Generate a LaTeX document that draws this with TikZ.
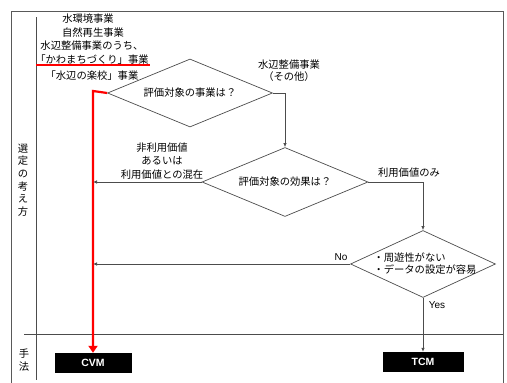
\documentclass[tikz,border=0pt]{standalone}
\usepackage{fontspec}
\setmainfont{Noto Sans CJK JP}
\newfontfamily\latinsans{Liberation Sans}
\usetikzlibrary{arrows.meta,shapes.geometric}
\begin{document}
\begin{tikzpicture}[x=1pt,y=-1pt,
  frame/.style={draw=black!65,line width=0.9pt},
  ln/.style={draw=black!70,line width=0.7pt},
  arr/.style={ln,-{Latex[length=4pt,width=3.5pt]}},
  dia/.style={diamond,draw=black!70,line width=0.7pt,inner sep=0pt,aspect=2.4},
  txt/.style={font=\fontsize{10.3}{12}\selectfont,inner sep=0pt,align=center},
  method/.style={fill=black,text=white,inner sep=0pt,font=\latinsans\bfseries\fontsize{10.5}{11}\selectfont},
  redarr/.style={draw=red,line width=2.2pt,-{Triangle[length=7pt,width=9pt]}}]
\useasboundingbox (0,0) rectangle (507,383);
% frame
\coordinate (fbl) at (11,383);
\coordinate (ftl) at (11,11);
\coordinate (ftr) at (503,11);
\coordinate (fbr) at (503,383);
\draw[frame] (fbl) -- (ftl) -- (ftr) -- (fbr);
\coordinate (vtop) at (36,17);
\coordinate (vbot) at (36,380);
\draw[ln] (vtop) -- (vbot);
\coordinate (hl) at (24,334);
\coordinate (hr) at (503,334);
\draw[ln] (hl) -- (hr);
% side labels
\node[txt,font=\fontsize{10.3}{12.6}\selectfont] (sel) at (23,180) {選\\定\\の\\考\\え\\方};
\node[txt,font=\fontsize{10.3}{12.6}\selectfont] (meth) at (24,360) {手\\法};
% top-left text
\node[txt] (t1) at (88,19) {水環境事業};
\node[txt] (t2) at (93,33) {自然再生事業};
\node[txt] (t3) at (92,46) {水辺整備事業のうち、};
\node[txt] (t4) at (92,60) {「かわまちづくり」事業};
\node[txt] (t5) at (92,76) {「水辺の楽校」事業};
\coordinate (ul1) at (36,65);
\coordinate (ul2) at (150,65);
\draw[draw=red,line width=2pt] (ul1) -- (ul2);
% diamonds
\node[dia,minimum width=165pt,minimum height=68pt,txt] (d1) at (190,93) {評価対象の事業は？};
\node[dia,minimum width=166pt,minimum height=69pt,txt] (d2) at (285,182) {評価対象の効果は？};
\node[dia,minimum width=145pt,minimum height=67pt] (d3) at (423,264) {};
\node[txt,align=left] (d3t) at (425,264) {・周遊性がない\\・データの設定が容易};
% method boxes
\node[method,minimum width=77pt,minimum height=20pt] (cvm) at (93,363) {CVM};
\node[method,minimum width=81pt,minimum height=20pt] (tcm) at (423,362) {TCM};
% connectors
\coordinate (rv) at (93,91);
\draw[redarr] (d1.west) -- (rv) -- (cvm.north);
\draw[arr] (d1.east) -| (d2.north);
\draw[arr] (d2.east) -| (d3.north);
\draw[arr] (d2.west) -- (d2.west -| rv);
\draw[arr] (d3.west) -- (d3.west -| rv);
\draw[arr] (d3.south) -- (tcm.north);
% labels
\node[txt] (l1) at (289,71) {水辺整備事業\\（その他）};
\node[txt,font=\fontsize{10.3}{13.5}\selectfont] (l2) at (162,161) {非利用価値\\あるいは\\利用価値との混在};
\node[txt] (l3) at (409,173) {利用価値のみ};
\node[txt,font=\latinsans\fontsize{10}{10}\selectfont] (lno) at (341,257) {No};
\node[txt,font=\latinsans\fontsize{10}{10}\selectfont] (lyes) at (437,305) {Yes};
\end{tikzpicture}
\end{document}
